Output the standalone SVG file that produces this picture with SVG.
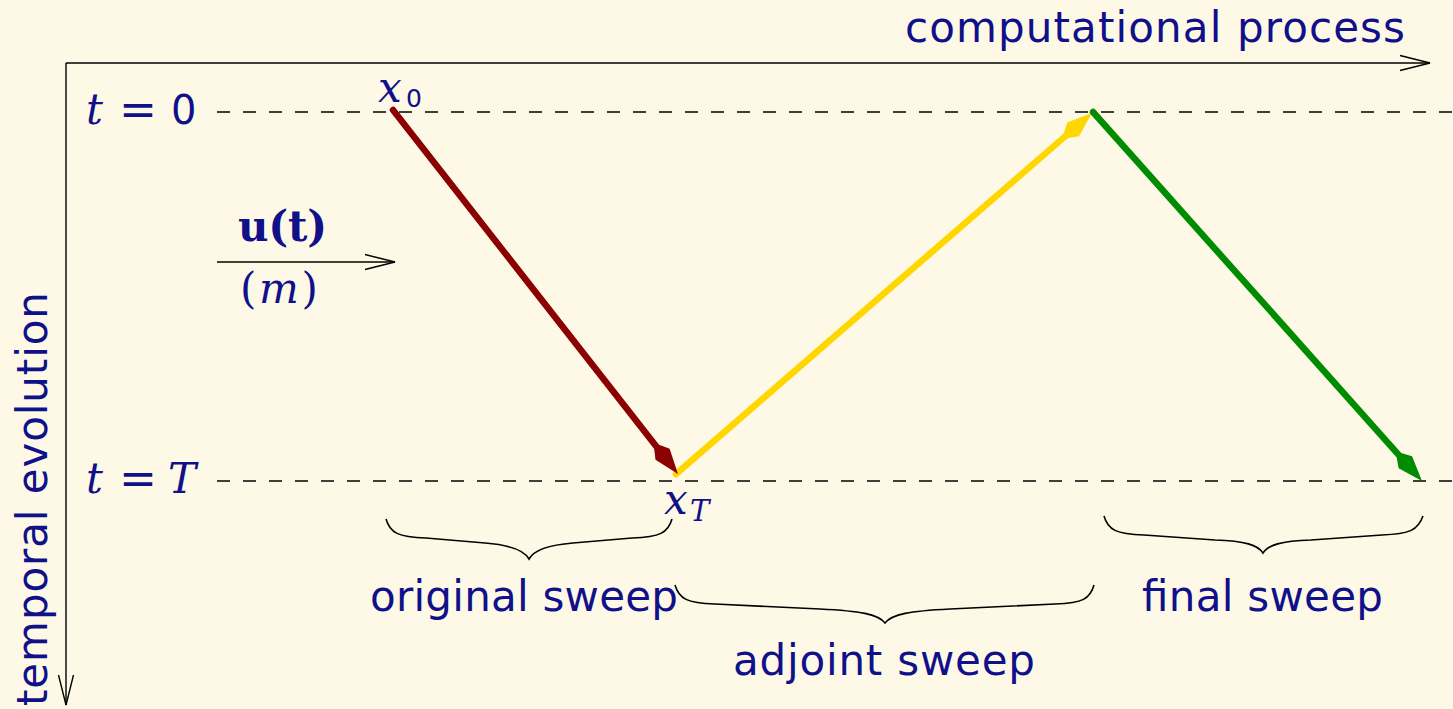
<svg xmlns="http://www.w3.org/2000/svg" width="1453" height="709" viewBox="0 0 1453 709">
  <style>
    .lbl { font-family: "DejaVu Sans", "Liberation Sans", sans-serif; font-size: 42px; fill: #10108a; }
    .math { font-family: "DejaVu Serif", "Liberation Serif", serif; font-style: italic; fill: #10108a; }
    .rm { font-family: "DejaVu Serif", "Liberation Serif", serif; fill: #10108a; }
    .sub { font-family: "DejaVu Sans", "Liberation Sans", sans-serif; fill: #10108a; }
    .axis { stroke: #000; stroke-width: 1.4; fill: none; }
    .dash { stroke: #000; stroke-width: 1.6; stroke-dasharray: 13 13; fill: none; }
    .brace { stroke: #000; stroke-width: 1.6; fill: none; }
    .sweep { stroke-width: 6.5; stroke-linecap: round; fill: none; }
  </style>
  <defs>
    <marker id="open" markerUnits="userSpaceOnUse" viewBox="-32 -10 34 20" refX="0" refY="0" markerWidth="34" markerHeight="20" orient="auto">
      <path d="M-30,-7.5 L0,0 L-30,7.5" stroke="#000" stroke-width="1.4" fill="none"/>
    </marker>
    <marker id="hRed" markerUnits="userSpaceOnUse" viewBox="-14 -10 40 20" refX="0" refY="0" markerWidth="40" markerHeight="20" orient="auto">
      <path d="M23,0 L-2,-9 L-11,-3.5 L-11,3.5 L-2,9 Z" fill="#8b0000"/>
    </marker>
    <marker id="hYel" markerUnits="userSpaceOnUse" viewBox="-14 -10 40 20" refX="0" refY="0" markerWidth="40" markerHeight="20" orient="auto">
      <path d="M23,0 L-2,-9 L-11,-3.5 L-11,3.5 L-2,9 Z" fill="#ffd700"/>
    </marker>
    <marker id="hGrn" markerUnits="userSpaceOnUse" viewBox="-14 -10 40 20" refX="0" refY="0" markerWidth="40" markerHeight="20" orient="auto">
      <path d="M23,0 L-2,-9 L-11,-3.5 L-11,3.5 L-2,9 Z" fill="#008c00"/>
    </marker>
  </defs>
  <rect x="0" y="0" width="1453" height="709" fill="#fef9e6"/>

  <g id="axes">
    <line class="axis" x1="66" y1="63" x2="1430" y2="63" marker-end="url(#open)"/>
    <line class="axis" x1="66" y1="63" x2="66" y2="705" marker-end="url(#open)"/>
    <text class="lbl" x="905" y="42" textLength="500" lengthAdjust="spacing">computational process</text>
    <text class="lbl" transform="translate(47,706) rotate(-90)" x="0" y="0" textLength="414" lengthAdjust="spacing">temporal evolution</text>
  </g>

  <g id="time-levels">
    <line class="dash" x1="217" y1="112" x2="1453" y2="112"/>
    <line class="dash" x1="217" y1="481" x2="1453" y2="481"/>
    <text class="math" x="86" y="124" font-size="42">t</text>
    <text class="rm" x="119" y="125" font-size="46" textLength="38" lengthAdjust="spacingAndGlyphs">=</text>
    <text class="sub" x="171" y="124" font-size="40">0</text>
    <text class="math" x="86" y="493" font-size="42">t</text>
    <text class="rm" x="119" y="494" font-size="46" textLength="38" lengthAdjust="spacingAndGlyphs">=</text>
    <text class="math" x="168" y="493" font-size="42">T</text>
  </g>

  <g id="control">
    <line class="axis" x1="217" y1="262" x2="395" y2="262" marker-end="url(#open)"/>
    <text class="rm" x="238" y="241" font-size="42" font-weight="bold" textLength="89" lengthAdjust="spacing">u(t)</text>
    <text class="rm" x="240" y="303" font-size="42" textLength="78" lengthAdjust="spacing">(<tspan font-style="italic">m</tspan>)</text>
  </g>

  <g id="connectors">
    <line class="sweep" stroke="#ffd700" x1="676" y1="474" x2="1074.6" y2="128.1" marker-end="url(#hYel)"/>
    <line class="sweep" stroke="#8b0000" x1="393" y1="110" x2="663.8" y2="455.9" marker-end="url(#hRed)"/>
    <line class="sweep" stroke="#008c00" x1="1093" y1="112" x2="1406.7" y2="463.8" marker-end="url(#hGrn)"/>
  </g>

  <g id="x0">
    <text class="math" x="378" y="102" font-size="42">x</text>
    <text class="sub" x="406" y="107" font-size="25">0</text>
  </g>
  <g id="xT">
    <text class="math" x="664" y="514" font-size="42">x</text>
    <text class="math" x="690" y="521" font-size="29">T</text>
  </g>

  <g id="original-sweep">
    <path class="brace" d="M386,519 C390,533 398,537 426,538 L485,543 C510,545 524,550 529,559 C534,550 548,545 573,543 L632,538 C660,537 668,533 672,519"/>
    <text class="lbl" x="370" y="611" textLength="308" lengthAdjust="spacing">original sweep</text>
  </g>
  <g id="adjoint-sweep">
    <path class="brace" d="M675,585 C679,599 687,603 715,604 L820,609 C860,611 878,614 885,623 C892,614 910,611 950,609 L1055,604 C1083,603 1090,599 1094,585"/>
    <text class="lbl" x="733" y="675" textLength="302" lengthAdjust="spacing">adjoint sweep</text>
  </g>
  <g id="final-sweep">
    <path class="brace" d="M1104,516 C1108,530 1116,534 1144,535 L1215,540 C1245,541 1258,545 1263,553 C1268,545 1281,541 1311,540 L1382,535 C1410,534 1418,530 1423,516"/>
    <text class="lbl" x="1142" y="611" textLength="241" lengthAdjust="spacing">final sweep</text>
  </g>
</svg>
